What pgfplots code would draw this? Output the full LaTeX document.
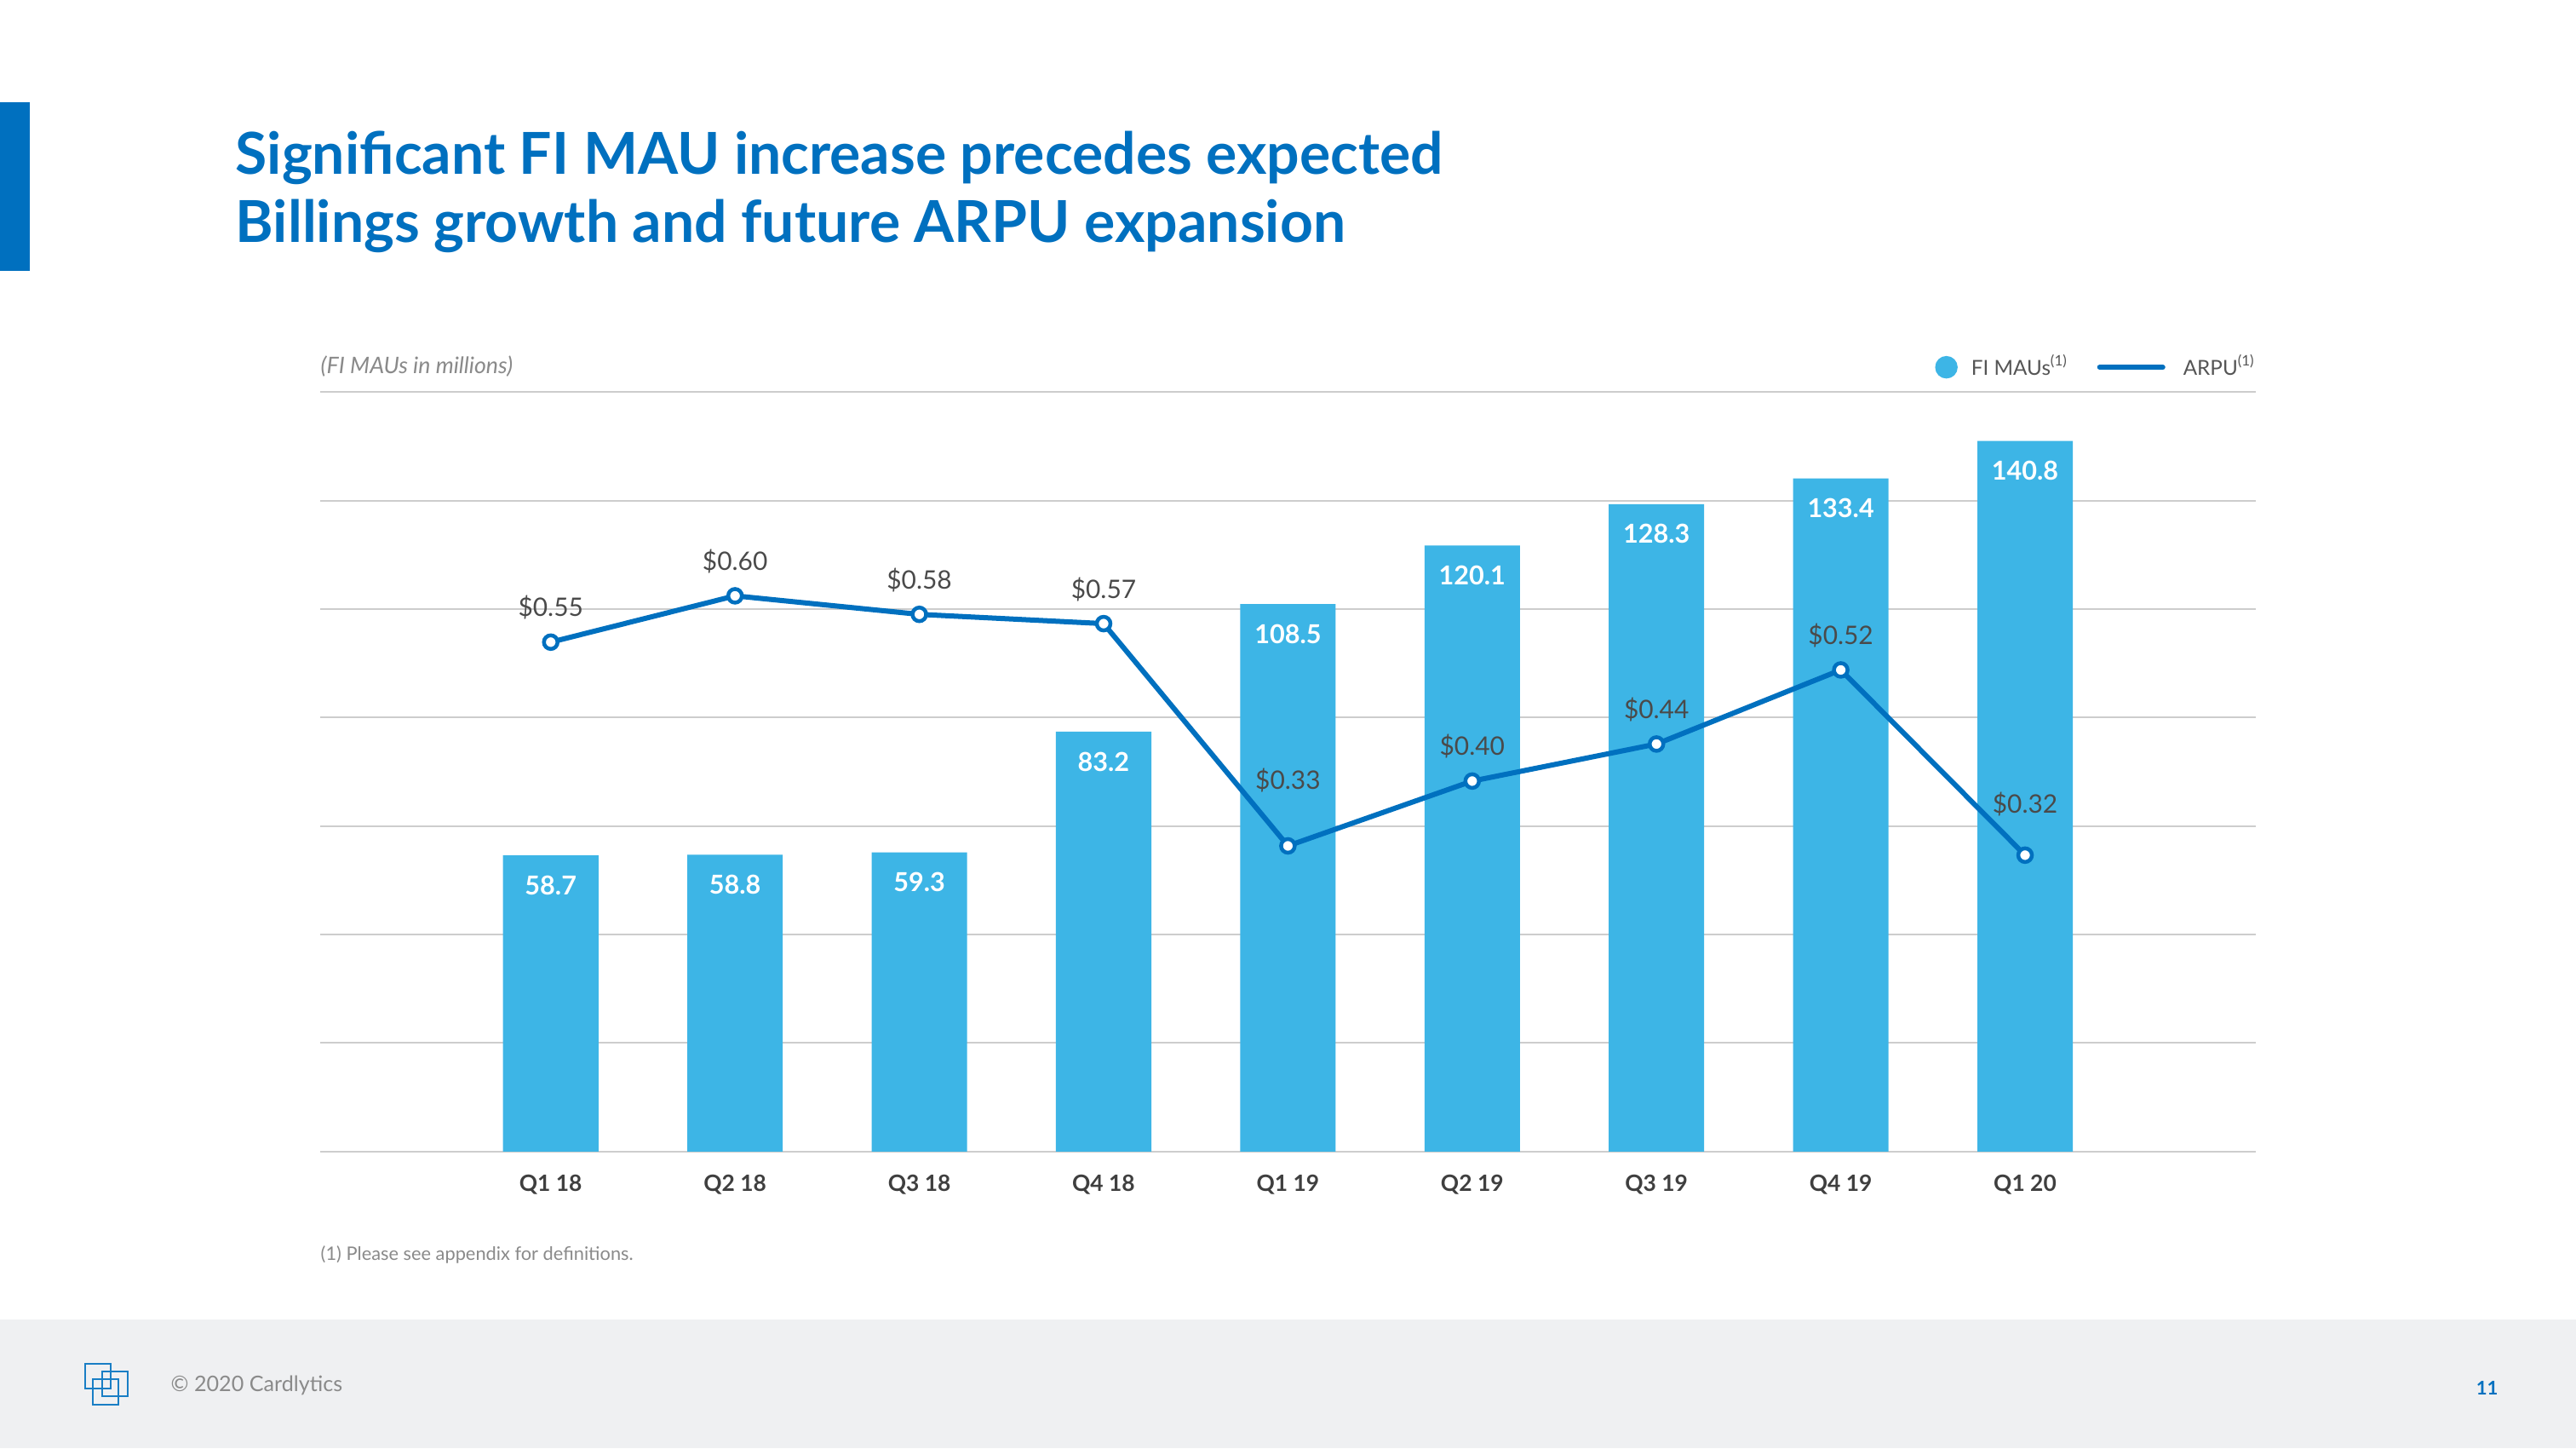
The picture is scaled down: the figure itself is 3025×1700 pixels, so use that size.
\documentclass[border=0pt]{standalone}
\usepackage{fontspec}
\setmainfont{Lato}
\usepackage{pgfplots}
\pgfplotsset{compat=1.18}
\definecolor{barblue}{HTML}{3DB5E6}
\definecolor{lineblue}{HTML}{0070BF}
\definecolor{gridgray}{HTML}{CDCDCD}
\definecolor{footgray}{HTML}{EFF0F2}
\definecolor{textgray}{HTML}{8A8A8A}
\definecolor{labelgray}{HTML}{4A4A4A}
\definecolor{tickgray}{HTML}{3F3F3F}
\definecolor{legendgray}{HTML}{555555}
\begin{document}
\begin{tikzpicture}[x=0.01cm,y=0.01cm]
\fill[white] (0,0) rectangle (3025,1700);
\fill[footgray] (0,0) rectangle (3025,151);
\fill[lineblue] (0,1382) rectangle (35,1580);
% title
\node[anchor=base west, inner sep=0, font=\fontsize{19.3}{24}\selectfont\bfseries, text=lineblue] at (276,1495) {Significant FI MAU increase precedes expected};
\node[anchor=base west, inner sep=0, font=\fontsize{19.3}{24}\selectfont\bfseries, text=lineblue] at (276,1415) {Billings growth and future ARPU expansion};
% subtitle
\node[anchor=base west, inner sep=0, font=\fontsize{7.6}{9}\selectfont\itshape, text=textgray] at (376,1261) {(FI MAUs in millions)};
% footnote
\node[anchor=base west, inner sep=0, font=\fontsize{6.2}{7}\selectfont, text=textgray] at (376,221) {(1) Please see appendix for definitions.};
% footer
\begin{scope}[lineblue!90!white, line width=0.023cm]
\draw (100,99) rectangle (130,70);
\draw (120,90) rectangle (150,61);
\draw (109,81) rectangle (139,51);
\end{scope}
\node[anchor=base west, inner sep=0, font=\fontsize{7.15}{8}\selectfont, text=textgray] at (200,67) {\textcopyright{} 2020 Cardlytics};
\node[anchor=base west, inner sep=0, font=\fontsize{6.3}{7}\selectfont\bfseries, text=lineblue] at (2907,63) {11};

\begin{axis}[
  at={(3.76cm,3.48cm)}, anchor=south west,
  width=22.71cm, height=8.91cm, scale only axis,
  xmin=-1.25, xmax=9.25, ymin=0, ymax=150.5,
  axis line style={draw=none},
  ytick={0,21.5,43,64.5,86,107.5,129,150.5}, yticklabels={},
  ymajorgrids, grid style={gridgray, line width=0.02cm},
  major tick length=0,
  xtick={0,1,2,3,4,5,6,7,8},
  xticklabels={Q1 18,Q2 18,Q3 18,Q4 18,Q1 19,Q2 19,Q3 19,Q4 19,Q1 20},
  xticklabel style={font=\fontsize{7.5}{9}\selectfont\bfseries, text=tickgray, anchor=base, yshift=-0.465cm},
  clip=false,
]
\addplot[ybar, fill=barblue, draw=none, bar width=1.12cm] coordinates {
  (0,58.7) (1,58.8) (2,59.3) (3,83.2) (4,108.5) (5,120.1) (6,128.3) (7,133.4) (8,140.8)};
\foreach \i/\v in {0/58.7,1/58.8,2/59.3,3/83.2,4/108.5,5/120.1,6/128.3,7/133.4,8/140.8}{
  \edef\tmp{\noexpand\node[anchor=center, yshift=-0.35cm, text=white, font=\noexpand\fontsize{8.7}{10}\noexpand\selectfont\noexpand\bfseries] at (axis cs:\i,\v) {\v};}
  \tmp
}
\end{axis}

\begin{axis}[
  at={(3.76cm,3.48cm)}, anchor=south west,
  width=22.71cm, height=8.91cm, scale only axis,
  xmin=-1.25, xmax=9.25, ymin=0, ymax=0.82,
  hide axis, clip=false,
  legend columns=2,
  legend style={at={(1,1.0327)}, anchor=east, xshift=0.077cm, draw=none, fill=none, inner sep=0pt,
    font=\fontsize{6.9}{8}\selectfont, text=legendgray,
    /tikz/every even column/.append style={column sep=0.27cm}},
]
\addlegendimage{legend image code/.code={\fill[barblue] (0.125cm,0cm) circle (0.125cm); \path (0.34cm,0cm);}}
\addlegendentry{FI MAUs\textsuperscript{(1)}}
\addplot[lineblue, line width=0.06cm, mark=*, mark size=0.08cm,
  mark options={fill=white, draw=lineblue, line width=0.045cm, solid},
  legend image code/.code={\draw[lineblue, line width=0.06cm, line cap=round] (0cm,0cm) -- (0.74cm,0cm); \path (0.88cm,0cm);}]
  coordinates {(0,0.55) (1,0.60) (2,0.58) (3,0.57) (4,0.33) (5,0.40) (6,0.44) (7,0.52) (8,0.32)};
\addlegendentry{ARPU\textsuperscript{(1)}}
\foreach \i/\v/\s in {0/0.55/0.405,1/0.60/0.405,2/0.58/0.405,3/0.57/0.405,4/0.33/0.77,5/0.40/0.405,6/0.44/0.405,7/0.52/0.405,8/0.32/0.60}{
  \edef\tmp{\noexpand\node[anchor=center, yshift=\s cm, text=labelgray, font=\noexpand\fontsize{8.5}{10}\noexpand\selectfont] at (axis cs:\i,\v) {\noexpand\$\v};}
  \tmp
}
\end{axis}
\end{tikzpicture}
\end{document}
